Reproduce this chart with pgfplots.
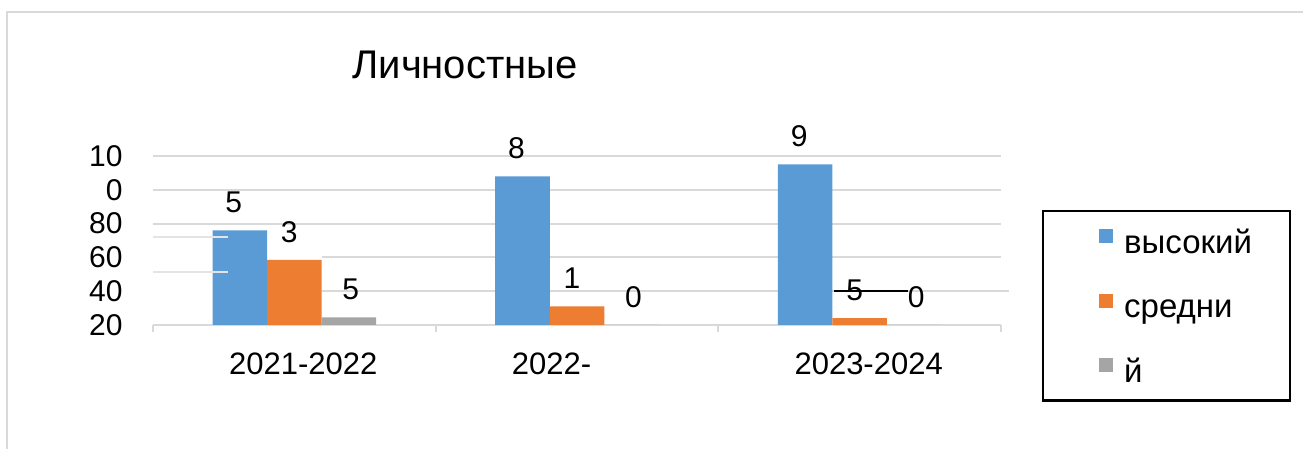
\documentclass[border=0pt]{standalone}
\usepackage{fontspec}
\setmainfont{Liberation Sans}
\usepackage{pgfplots}
\usepackage{pgfplotstable}
\pgfplotsset{compat=1.18}
\definecolor{cblue}{HTML}{5B9BD5}
\definecolor{corange}{HTML}{ED7D31}
\definecolor{cgray}{HTML}{A5A5A5}
\definecolor{gridc}{HTML}{D9D9D9}

\pgfplotstableread{
x y l
0 56 5
1 88 8
2 95 9
}\tblblue
\pgfplotstableread{
x y l
0 38.5 3
1 11 1
2 4 5
}\tblorange
\pgfplotstableread{
x y l
0 4.5 5
1 0 0
2 0 0
}\tblgray

\begin{document}
\begin{tikzpicture}
\useasboundingbox (0,0) rectangle (651.5pt,224.5pt);
\draw[gridc, line width=1pt] (3.5pt,0) -- (3.5pt,218.5pt) -- (651.5pt,218.5pt);
\node[font=\fontsize{20}{24}\selectfont, inner sep=0pt] at (232.5pt,192pt) {Личностные};
\begin{axis}[
  at={(76.5pt,62pt)}, anchor=south west,
  scale only axis, width=424pt, height=84.5pt,
  xmin=-0.5, xmax=2.5, ymin=0, ymax=100,
  axis line style={draw=none},
  major tick length=0pt,
  xtick={0,1,2},
  xticklabels={2021-2022, 2022-\phantom{2023}, 2023-2024},
  ytick={0,20,40,60,80,100},
  yticklabels={20,40,60,80,0,10},
  xticklabel style={font=\fontsize{15.5}{18}\selectfont, anchor=center, inner sep=0pt, yshift=-19.5pt, xshift=4.5pt},
  yticklabel style={font=\fontsize{15}{18}\selectfont, anchor=east, inner sep=0pt, xshift=-15pt},
  clip=false,
  ybar, bar width=27.25pt,
  point meta=explicit symbolic,
  nodes near coords,
  nodes near coords style={font=\fontsize{15}{18}\selectfont, anchor=center, yshift=14pt, inner sep=0pt},
  legend cell align=left,
  legend style={at={(1.0483,0.6805)}, anchor=north west, draw=black, line width=1.25pt,
    inner xsep=19pt, inner ysep=9pt, row sep=20.2pt,
    font=\fontsize{16.5}{18}\selectfont,
    nodes={inner sep=0pt, text height=8.56pt, text depth=0pt},
    /tikz/every odd column/.append style={column sep=5.5pt}},
  legend image code/.code={\path (0pt,0pt); \fill[#1] (9pt,0.8pt) rectangle (16pt,7.8pt);},
]
% gridlines (as rendered in the reference)
\draw[gridc, line width=1pt] (axis cs:-0.5,100) -- (axis cs:2.5,100);
\draw[gridc, line width=1pt] (axis cs:-0.5,80) -- (axis cs:2.5,80);
\draw[gridc, line width=1pt] (axis cs:-0.5,60) -- (axis cs:2.5,60);
\draw[gridc, line width=1pt] (axis cs:0.097,40) -- (axis cs:2.5,40);
\draw[gridc, line width=1pt] (axis cs:0.097,20) -- (axis cs:2.53,20);
\draw[gridc, line width=1pt] (axis cs:-0.5,0) -- (axis cs:2.5,0);
\draw[gridc, line width=1pt] (axis cs:-0.5,0) -- ++(0pt,-3.5pt);
\draw[gridc, line width=1pt] (axis cs:0.5,0) -- ++(0pt,-3.5pt);
\draw[gridc, line width=1pt] (axis cs:1.5,0) -- ++(0pt,-3.5pt);
\draw[gridc, line width=1pt] (axis cs:2.5,0) -- ++(0pt,-3.5pt);

\addplot[fill=cblue, draw=none, bar shift=-27.25pt, nodes near coords style={xshift=-3pt}] table[x=x, y=y, meta=l] {\tblblue};
\addlegendentry{высокий}
\addplot[fill=corange, draw=none, bar shift=0pt, nodes near coords style={xshift=-2.5pt}] table[x=x, y=y, meta=l] {\tblorange};
\addlegendentry{средни}
\addplot[fill=cgray, draw=none, bar shift=27.25pt, nodes near coords style={xshift=1pt}] table[x=x, y=y, meta=l] {\tblgray};
\addlegendentry{й}

\draw[gridc!70!white, line width=1pt] (axis cs:-0.5,51.8) -- (axis cs:-0.235,51.8);
\draw[gridc!70!white, line width=1pt] (axis cs:-0.5,31.2) -- (axis cs:-0.235,31.2);
\draw[black, line width=1pt] (axis cs:1.91,20) -- (axis cs:2.171,20);
\end{axis}
\end{tikzpicture}
\end{document}
